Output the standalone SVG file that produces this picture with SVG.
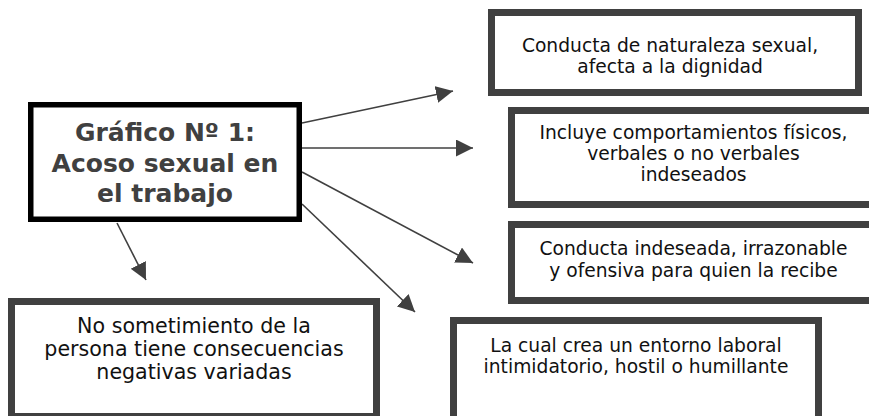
<svg xmlns="http://www.w3.org/2000/svg" width="869" height="416" viewBox="0 0 869 416">
<defs>
<style>
.box{fill:#ffffff;stroke:#404040;stroke-width:7}
.main{fill:#ffffff;stroke:#000000;stroke-width:5.5}
.t{font-family:"DejaVu Sans",Verdana,sans-serif;font-size:18.7px;fill:#111111;text-anchor:middle}
.t5{font-family:"DejaVu Sans",Verdana,sans-serif;font-size:20.6px;fill:#111111;text-anchor:middle}
.h{font-family:"DejaVu Sans",Verdana,sans-serif;font-size:25px;font-weight:bold;fill:#404040;text-anchor:middle}
.c{stroke:#404040;stroke-width:1.6;fill:none;marker-end:url(#ah)}
</style>
<marker id="ah" markerUnits="userSpaceOnUse" markerWidth="19" markerHeight="18" refX="17" refY="8.5" orient="auto">
<path d="M0,0 L17,8.5 L0,17 z" fill="#404040"/>
</marker>
</defs>
<rect width="869" height="416" fill="#ffffff"/>
<g id="connectors">
<line class="c" x1="302" y1="123" x2="453" y2="91"/>
<line class="c" x1="302" y1="148" x2="473" y2="148"/>
<line class="c" x1="302" y1="172" x2="473" y2="263"/>
<line class="c" x1="302" y1="204" x2="415" y2="312"/>
<line class="c" x1="117" y1="223" x2="146" y2="280"/>
</g>
<g id="main">
<rect class="main" x="30.75" y="104.75" width="268.5" height="114.5"/>
<text class="h" x="165" y="141">Gráfico Nº 1:</text>
<text class="h" x="165" y="172">Acoso sexual en</text>
<text class="h" x="165" y="202">el trabajo</text>
</g>
<g id="n1">
<rect class="box" x="491.5" y="12.5" width="367" height="80"/>
<text class="t" x="670" y="52">Conducta de naturaleza sexual,</text>
<text class="t" x="670" y="73">afecta a la dignidad</text>
</g>
<g id="n2">
<rect class="box" x="511.5" y="110.5" width="362" height="94"/>
<text class="t" x="693.5" y="139">Incluye comportamientos físicos,</text>
<text class="t" x="693.5" y="160">verbales o no verbales</text>
<text class="t" x="693.5" y="181">indeseados</text>
</g>
<g id="n3">
<rect class="box" x="511.5" y="224.5" width="362" height="76"/>
<text class="t" x="693.5" y="255">Conducta indeseada, irrazonable</text>
<text class="t" x="693.5" y="277">y ofensiva para quien la recibe</text>
</g>
<g id="n4">
<rect class="box" x="453.5" y="320.5" width="365" height="110"/>
<text class="t" x="636" y="352">La cual crea un entorno laboral</text>
<text class="t" x="636" y="373">intimidatorio, hostil o humillante</text>
</g>
<g id="n5">
<rect class="box" x="11.5" y="301.5" width="365" height="115"/>
<text class="t5" x="194" y="333">No sometimiento de la</text>
<text class="t5" x="194" y="356">persona tiene consecuencias</text>
<text class="t5" x="194" y="379">negativas variadas</text>
</g>
</svg>
